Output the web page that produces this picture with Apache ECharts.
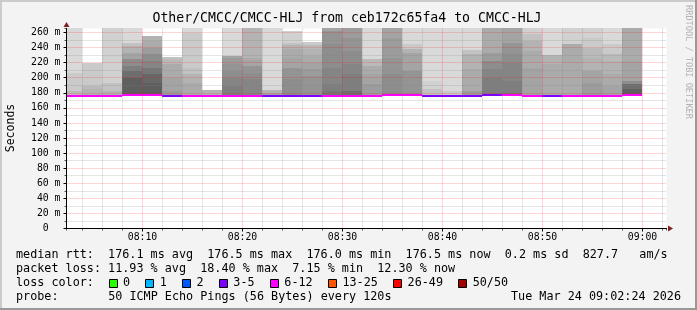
<!DOCTYPE html>
<html><head><meta charset="utf-8">
<script src="https://cdn.jsdelivr.net/npm/echarts@6/dist/echarts.min.js"></script>
<style>html,body{margin:0;padding:0;background:#f3f3f3}#c{width:697px;height:310px}</style>
</head><body><div id="c"></div>
<script>
// ---------------- data ----------------
const rangeStart = '08:02:24';
const rangeEnd = '09:02:24';
const stepMinutes = 2;
const colEnds = ['08:04','08:06','08:08','08:10','08:12','08:14','08:16','08:18','08:20','08:22',
  '08:24','08:26','08:28','08:30','08:32','08:34','08:36','08:38','08:40','08:42',
  '08:44','08:46','08:48','08:50','08:52','08:54','08:56','08:58','09:00'];
// median rtt (ms) per step
const medianRtt = [176.0,176.0,176.0,176.5,176.5,176.0,176.0,176.0,176.0,176.0,
  176.0,176.0,176.0,176.0,176.0,176.0,176.5,176.5,176.0,176.0,
  176.0,176.5,176.5,176.0,176.0,176.0,176.0,176.0,176.5];
// lowest ping (ms) per step
const minRtt = [175.5,175.5,175.5,175.5,175.5,175.5,175.5,175.5,175.5,175.5,
  175.5,175.5,175.5,175.5,175.5,175.5,175.5,175.5,175.5,175.5,
  175.5,175.5,175.5,175.5,175.5,175.5,175.5,175.5,175.5];
// packet loss (%) per step
const lossPct = [13.2,15.2,12.8,11.8,13.4,7.15,12.6,18.4,13.0,12.2,
  8.4,9.2,9.6,14.2,13.8,11.6,12.4,15.6,8.0,7.8,
  9.4,8.8,12.9,13.6,9.0,13.2,12.6,13.8,12.3];
// smoke: per step, [rank of sorted ping (1 = outermost), rtt ms of that upper ping]
const smokeBands = [
  [[3,275],[5,205.8],[7,182]],
  [[5,220],[7,188.9],[8,184.4]],
  [[4,275],[6,193.3],[8,182.2]],
  [[3,275],[6,245.8],[8,242.2],[10,233.3],[13,224.4],[15,215.6],[17,208.9],[19,200]],
  [[8,254.7],[9,248.9],[11,240],[13,231.1],[14,222.2],[16,213.3],[18,204.4],[19,193.3]],
  [[6,227.6],[7,224.4],[9,217.8],[10,200],[11,182.2]],
  [[3,275],[5,258.7],[6,213.3],[8,204.4],[9,193.3]],
  [[8,183.5]],
  [[3,275],[10,228.9],[11,226.7],[12,217.8],[13,208.9],[14,200],[15,188.9]],
  [[8,275],[9,226.7],[10,223.6],[12,215.6],[13,206.7],[14,197.8]],
  [[3,275],[8,183.1],[10,180]],
  [[4,262.2],[6,246.7],[8,243.6],[9,237.8],[10,226.7],[12,213.3],[13,197.8]],
  [[5,248],[7,243.6],[8,237.8],[9,228.9],[10,220],[11,211.1],[12,202.2]],
  [[10,275],[12,262.2],[13,244.4],[14,213.3],[15,191.1],[16,182.2]],
  [[11,275],[12,253.3],[13,235.6],[14,217.8],[15,204.4],[17,182.2]],
  [[3,275],[7,224.4],[9,215.6],[10,204.4],[11,191.1]],
  [[10,275],[11,253.3],[12,226.7],[13,204.4]],
  [[3,275],[5,244.4],[8,237.8],[10,233.3],[12,208.9]],
  [[3,275],[4,195.6],[6,184.4]],
  [[3,275],[5,182.2]],
  [[3,275],[6,236.4],[8,231.1],[9,211.1],[11,182.2]],
  [[9,275],[11,233.3],[13,222.2],[14,211],[15,200]],
  [[10,275],[12,246.7],[13,231.1],[14,220],[15,195.6],[16,180]],
  [[4,275],[6,257.8],[8,248.9],[9,235.6],[10,213.3]],
  [[3,275],[8,230.2],[9,217.8]],
  [[4,275],[9,244.4]],
  [[4,275],[5,253.3],[7,240],[8,226.7],[10,208.9],[11,193.3]],
  [[3,275],[5,244.4],[7,231.1],[8,222.2],[9,204.4],[10,188.9]],
  [[9,275],[10,222.2],[13,195.6],[17,191.1],[19,184.4]]
];
const pingsPerStep = 50;
const yMaxMs = 265.3;
const rttStats = ['176.1 ms avg','176.5 ms max','176.0 ms min','176.5 ms now','0.2 ms sd','827.7   am/s'];
const lossStats = ['11.93 % avg','18.40 % max','7.15 % min','12.30 % now'];
const lossLegend = ['0','1','2','3-5','6-12','13-25','26-49','50/50'];
const lossUpper = [0,1,2,5,12,25,49,50]; // lost pings upper bound per legend bucket
const titleText = 'Other/CMCC/CMCC-HLJ from ceb172c65fa4 to CMCC-HLJ';
const probeText = '50 ICMP Echo Pings (56 Bytes) every 120s';
const dateText = 'Tue Mar 24 09:02:24 2026';

// ---------------- style ----------------
const FONT = '"DejaVu Sans Mono", "Liberation Mono", monospace';
const lossColors = ['#26ff00','#00b8ff','#0059ff','#7e00ff','#ff00ff','#ff5500','#ff0000','#a10000'];
const MAJOR = 'rgba(255,0,0,0.33)';
const MINOR = 'rgba(130,130,130,0.42)';
const NONE = 'rgba(0,0,0,0)';

function toMin(s) { const p = s.split(':').map(Number); return p[0]*60 + p[1] + (p[2]||0)/60 - 480; }
const X_MIN = toMin(rangeStart), X_MAX = toMin(rangeEnd);
function fmtTime(v) { const t = Math.round(480 + v); const h = Math.floor(t/60), m = t % 60; return (h<10?'0':'')+h+':'+(m<10?'0':'')+m; }
function smokeGrey(rank) { const half = pingsPerStep/2; const c = Math.floor(190/half*(half-rank))+50; const h = c.toString(16).padStart(2,'0'); return '#'+h+h+h; }
function lossColour(pct) { const lost = pct/100*pingsPerStep; if (lost === 0) return lossColors[0]; for (let k=1;k<lossUpper.length;k++){ if (lost <= lossUpper[k]) return lossColors[k]; } return lossColors[7]; }

const chart = echarts.init(document.getElementById('c'), null, {renderer:'canvas'});

// legend graphics
const CW = 7.09; const LX = 16; const L0 = 254.5; const LS = 14.3;
const gfx = [];
gfx.push({type:'rect', shape:{x:0,y:0,width:697,height:2}, style:{fill:'#cbcbcb'}, silent:true});
gfx.push({type:'rect', shape:{x:0,y:0,width:2,height:310}, style:{fill:'#cbcbcb'}, silent:true});
gfx.push({type:'rect', shape:{x:695,y:0,width:2,height:310}, style:{fill:'#999999'}, silent:true});
gfx.push({type:'rect', shape:{x:0,y:308,width:697,height:2}, style:{fill:'#999999'}, silent:true});
function txt(x, y, s, opt) {
  opt = opt || {};
  gfx.push({type:'text', x:x, y:y, rotation: opt.rot || 0, silent:true,
    style:{text:s, fill: opt.color || '#000', font: (opt.size||11.78)+'px '+FONT, align: opt.align||'left', verticalAlign:'middle', textAlign: opt.align||'left', textVerticalAlign:'middle'}});
}
txt(347, 18.5, titleText, {size:13.2, align:'center'});
txt(11, 128, 'Seconds', {rot: Math.PI/2, align:'center', size:11.5});
txt(688, 62, 'RRDTOOL / TOBI OETIKER', {rot: -Math.PI/2, align:'center', size:8.6, color:'#b4b4b4'});
txt(LX, L0, 'median rtt:  ' + rttStats.join('  '));
txt(LX, L0+LS, 'packet loss: ' + lossStats.join('  '));
txt(LX, L0+2*LS, 'loss color:');
let tx = 123;
lossLegend.forEach(function (lab, k) {
  gfx.push({type:'rect', shape:{x: Math.round(tx-14.4)+0.5, y: Math.round(L0+2*LS-4)+0.5, width:8, height:8}, style:{fill: lossColors[k], stroke:'#000', lineWidth:1}, silent:true});
  txt(tx, L0+2*LS, lab);
  tx += lab.length*CW + 29.7;
});
txt(LX, L0+3*LS, 'probe:');
txt(LX + 13*CW, L0+3*LS, probeText);
txt(681, L0+3*LS, dateText, {align:'right'});

const option = {
  backgroundColor: '#f3f3f3',
  animation: false,
  grid: {left: 66.5, top: 28.5, width: 600, height: 200, show: true, backgroundColor: '#ffffff', borderWidth: 0, containLabel: false},
  xAxis: [
    {type:'value', min:X_MIN, max:X_MAX, splitNumber:6, minInterval:10, maxInterval:10, z:4, position:'bottom',
     axisLine:{show:true, onZero:false, lineStyle:{color:'#000', width:1}},
     axisTick:{show:true, length:3, lineStyle:{color:'#000'}},
     axisLabel:{show:true, showMinLabel:false, showMaxLabel:false, margin:4, color:'#000', fontFamily:FONT, fontSize:9.8, formatter: fmtTime},
     splitLine:{show:true, showMinLine:false, showMaxLine:false, lineStyle:{color:MAJOR, type:[1,1], width:1}}},
    {type:'value', min:X_MIN, max:X_MAX, splitNumber:30, minInterval:2, maxInterval:2, z:3, position:'bottom',
     axisLine:{show:true, onZero:false, symbol:['none','triangle'], symbolSize:[6,5], symbolOffset:[0,4], lineStyle:{color:'#7f1f1f', width:1}},
     axisTick:{show:true, length:2, lineStyle:{color:'#555'}},
     axisLabel:{show:false},
     splitLine:{show:true, showMinLine:false, showMaxLine:false, lineStyle:{color:[MINOR,MINOR,MINOR,NONE,MINOR], type:[1,1], width:1}}}
  ],
  yAxis: [
    {type:'value', min:0, max:yMaxMs, interval:20, z:4, position:'left',
     axisLine:{show:true, onZero:false, lineStyle:{color:'#000', width:1}},
     axisTick:{show:true, length:3, lineStyle:{color:'#000'}},
     axisLabel:{show:true, showMaxLabel:false, margin:6, color:'#000', fontFamily:FONT, fontSize:9.8, formatter: function(v){ return v === 0 ? '0  ' : v + ' m'; }},
     splitLine:{show:true, showMinLine:false, showMaxLine:false, lineStyle:{color:MAJOR, type:[1,1], width:1}}},
    {type:'value', min:0, max:yMaxMs, interval:10, z:3, position:'left',
     axisLine:{show:true, onZero:false, symbol:['none','triangle'], symbolSize:[6,5], symbolOffset:[0,4], lineStyle:{color:'#7f1f1f', width:1}},
     axisTick:{show:true, length:2, lineStyle:{color:'#555'}},
     axisLabel:{show:false},
     splitLine:{show:true, showMinLine:false, showMaxLine:false, lineStyle:{color:[MINOR,NONE], type:[1,1], width:1}}}
  ],
  series: [{
    type:'custom', coordinateSystem:'cartesian2d', xAxisIndex:0, yAxisIndex:0, z:2, silent:true, clip:false,
    data: colEnds.map(function(t){ return [toMin(t)]; }),
    encode: {x: 0},
    renderItem: function (params, api) {
      const i = params.dataIndex;
      const cs = params.coordSys;
      const end = toMin(colEnds[i]); const start = end - stepMinutes;
      const xa = Math.floor(Math.max(api.coord([start, 0])[0], cs.x));
      const xb = Math.floor(api.coord([end, 0])[0]);
      const yb = Math.round(api.coord([end, minRtt[i]])[1]);
      const yTop = Math.floor(cs.y);
      const children = [];
      smokeBands[i].forEach(function (b) {
        const yt = Math.max(Math.round(api.coord([end, b[1]])[1]), yTop);
        children.push({type:'rect', shape:{x:xa, y:yt, width:xb-xa, height:yb-yt}, style:{fill: smokeGrey(b[0])}});
      });
      const ym = Math.round(api.coord([end, medianRtt[i]])[1]);
      children.push({type:'line', shape:{x1:xa, y1:ym, x2:xb, y2:ym}, style:{stroke: lossColour(lossPct[i]), lineWidth:2}});
      return {type:'group', children: children};
    }
  }],
  graphic: gfx
};
chart.setOption(option);
</script></body></html>
